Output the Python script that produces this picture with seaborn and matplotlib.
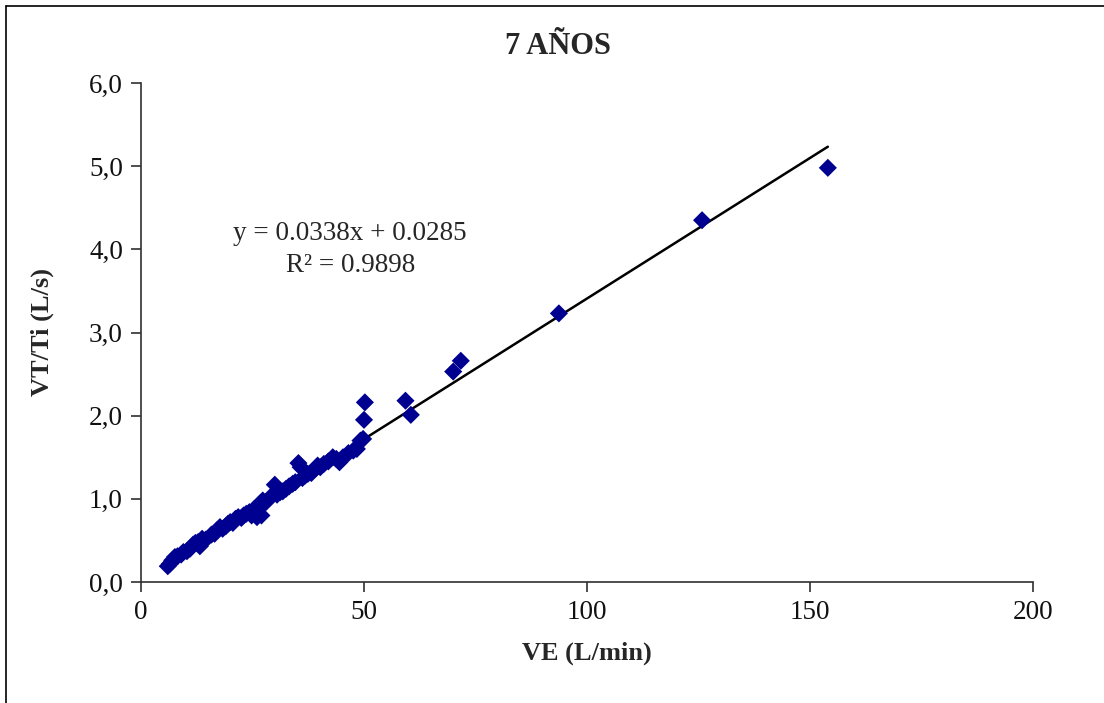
import numpy as np
import pandas as pd
import matplotlib
matplotlib.use("Agg")
import matplotlib.pyplot as plt
from matplotlib.lines import Line2D
import seaborn as sns

# Ventilation (VE, L/min) vs mean inspiratory flow (VT/Ti, L/s), 7-year-olds
ve = [6.0, 6.5, 7.0, 7.6, 8.2, 9.0, 9.5, 10.3, 11.0, 11.7, 12.2, 12.8, 13.2,
      13.7, 14.5, 15.8, 16.5, 17.0, 17.7, 18.3, 19.0, 19.5, 20.0, 20.6, 21.2,
      21.8, 22.5, 23.0, 23.6, 24.3, 24.8, 25.4, 26.0, 26.4, 26.8, 27.3, 27.0,
      28.0, 29.0, 30.0, 30.5, 31.2, 31.8, 32.5, 33.2, 34.0, 34.6, 35.3, 35.8,
      36.2, 36.8, 37.4, 38.2, 39.0, 39.6, 40.2, 41.0, 42.0, 43.0, 43.8, 44.5,
      45.3, 46.5, 47.6, 48.4, 49.2, 49.8, 50.0, 50.2, 59.3, 60.5, 70.0, 71.7,
      93.7, 125.8, 154.0]
vt_ti = [0.19, 0.22, 0.26, 0.30, 0.31, 0.33, 0.36, 0.37, 0.40, 0.45, 0.47,
         0.48, 0.43, 0.52, 0.51, 0.57, 0.58, 0.62, 0.66, 0.64, 0.67, 0.70,
         0.72, 0.71, 0.76, 0.78, 0.77, 0.80, 0.82, 0.84, 0.80, 0.88, 0.78,
         0.90, 0.95, 0.98, 0.80, 0.96, 1.02, 1.17, 1.05, 1.08, 1.09, 1.12,
         1.15, 1.18, 1.20, 1.43, 1.38, 1.25, 1.28, 1.30, 1.31, 1.36, 1.40,
         1.38, 1.42, 1.45, 1.50, 1.48, 1.44, 1.50, 1.55, 1.58, 1.60, 1.70,
         1.72, 1.95, 2.16, 2.18, 2.01, 2.53, 2.66, 3.23, 4.35, 4.98]

# Linear trend line
slope = 0.0338
intercept = 0.0285
r2 = 0.9898

x_ticks = [0, 50, 100, 150, 200]
y_ticks = [0.0, 1.0, 2.0, 3.0, 4.0, 5.0, 6.0]

df = pd.DataFrame({"VE": ve, "VTTi": vt_ti})
x_fit = np.linspace(min(ve), max(ve), 2)
fit = pd.DataFrame({"VE": x_fit, "VTTi": slope * x_fit + intercept})

sns.set_theme(style="white")
plt.rcParams["font.family"] = ["Liberation Serif", "DejaVu Serif"]

fig = plt.figure(figsize=(11.04, 7.03), dpi=100)
ax = fig.add_axes([141 / 1104, 1 - 582 / 703, 892 / 1104, 499 / 703])

sns.lineplot(data=fit, x="VE", y="VTTi", ax=ax, color="black", linewidth=1.8)
sns.scatterplot(data=df, x="VE", y="VTTi", ax=ax, marker="D", s=85,
                color="#000090", edgecolor="none", linewidth=0, zorder=3)

ax.set_xlim(0, 200)
ax.set_ylim(0, 6)
ax.set_xticks(x_ticks)
ax.set_yticks(y_ticks)
ax.set_xticklabels([str(v) for v in x_ticks])
ax.set_yticklabels([f"{v:.1f}".replace(".", ",") for v in y_ticks])

for side in ("top", "right"):
    ax.spines[side].set_visible(False)
for side in ("left", "bottom"):
    ax.spines[side].set_color("#303030")
    ax.spines[side].set_linewidth(1.2)
ax.tick_params(axis="both", direction="out", length=7, width=1.2,
               color="#303030", labelsize=19.5, labelcolor="#111111", pad=6,
               bottom=True, left=True)

ax.set_xlabel("VE (L/min)", fontsize=19, fontweight="bold", labelpad=12)
ax.set_ylabel("VT/Ti (L/s)", fontsize=19, fontweight="bold", labelpad=25)

fig.text(0.505, 1 - 46 / 703, "7 AÑOS", ha="center", va="center",
         fontsize=22, fontweight="bold")

ax.text(46.9, 4.0, f"y = {slope}x + {intercept}\nR² = {r2}", ha="center",
        va="center", fontsize=19.5, linespacing=1.35)

# Outer chart frame (left and top edges)
fig.add_artist(Line2D([6 / 1104, 6 / 1104], [0, 1 - 6 / 703],
                      transform=fig.transFigure, color="black", linewidth=1.2))
fig.add_artist(Line2D([6 / 1104, 1], [1 - 6 / 703, 1 - 6 / 703],
                      transform=fig.transFigure, color="black", linewidth=1.2))

fig.savefig("out.png", dpi=100)
